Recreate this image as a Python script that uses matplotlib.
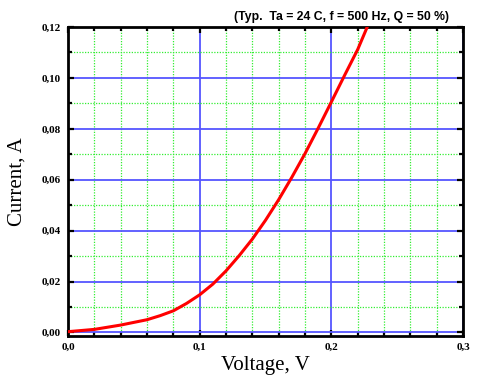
import numpy as np
import matplotlib
matplotlib.use('Agg')
import matplotlib.pyplot as plt
from matplotlib.ticker import MultipleLocator, FuncFormatter

# values
voltage = [0.0, 0.02, 0.04, 0.06, 0.07, 0.08, 0.09, 0.10, 0.11, 0.12, 0.13, 0.14,
           0.15, 0.16, 0.17, 0.18, 0.19, 0.20, 0.21, 0.22, 0.2272]
current = [0.0003, 0.0012, 0.0029, 0.0050, 0.0066, 0.0085, 0.0114, 0.0148, 0.0190,
           0.0242, 0.0302, 0.0367, 0.0441, 0.0522, 0.0610, 0.0703, 0.0803, 0.0906,
           0.1010, 0.1112, 0.1200]
title_text = '(Typ.  Ta = 24 C, f = 500 Hz, Q = 50 %)'

fig = plt.figure(figsize=(4.83, 3.83), dpi=100)
ax = fig.add_axes([0.1408, 0.1227, 0.818, 0.8068])

ax.plot(voltage, current, color='#ff0000', lw=2.2, zorder=3, solid_joinstyle='round')

ax.set_xlim(0, 0.3)
ax.set_ylim(-0.0014, 0.12)
ax.xaxis.set_major_locator(MultipleLocator(0.1))
ax.xaxis.set_minor_locator(MultipleLocator(0.02))
ax.yaxis.set_major_locator(MultipleLocator(0.02))
ax.yaxis.set_minor_locator(MultipleLocator(0.01))
ax.xaxis.set_major_formatter(FuncFormatter(lambda v, p: ('%.1f' % v).replace('.', ',')))
ax.yaxis.set_major_formatter(FuncFormatter(lambda v, p: ('%.2f' % v).replace('.', ',')))

ax.grid(which='minor', color='#33ee33', ls=(0, (1, 1.2)), lw=0.9)
ax.grid(which='major', color='#5555ff', ls='-', lw=1.3)
ax.set_axisbelow(True)

ax.tick_params(which='both', direction='in', top=True, right=True, width=1.6)
ax.tick_params(which='major', length=4.5, pad=5)
ax.tick_params(which='minor', length=3)
for s in ax.spines.values():
    s.set_linewidth(2)

for lab in ax.get_xticklabels() + ax.get_yticklabels():
    lab.set_family('Liberation Serif')
    lab.set_fontweight('bold')
    lab.set_fontsize(8)

ax.set_xlabel('Voltage, V', family='Liberation Serif', fontsize=15, labelpad=3)
ax.set_ylabel('Current, A', family='Liberation Serif', fontsize=15, labelpad=11)
ax.text(0.965, 1.012, title_text, transform=ax.transAxes, ha='right', va='bottom',
        family='Liberation Sans', fontweight='bold', fontsize=8.8)

fig.savefig('out.png', dpi=100)
